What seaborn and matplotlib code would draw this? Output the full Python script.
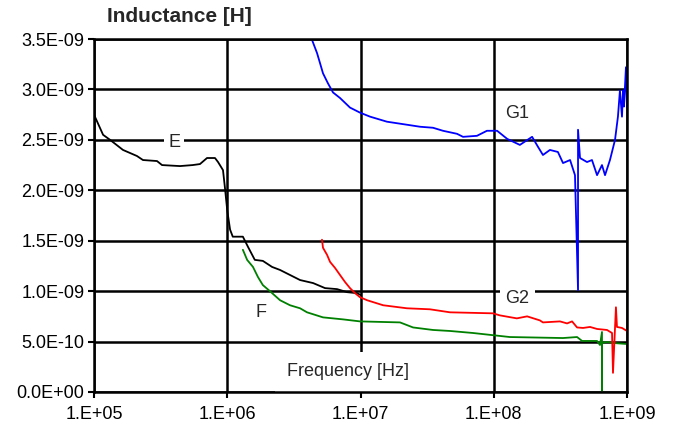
import matplotlib
matplotlib.use("Agg")
import matplotlib.pyplot as plt
import matplotlib.ticker as mticker
import seaborn as sns
import pandas as pd

# ---- data (frequency in Hz, inductance in nH) ----
e_freq = [1.00e5, 1.17e5, 1.32e5, 1.65e5, 2.10e5, 2.33e5, 2.97e5, 3.24e5, 4.42e5, 5.5e5,
          6.24e5, 7.05e5, 8.09e5, 8.53e5, 9.29e5, 9.6e5, 1.00e6, 1.05e6, 1.10e6, 1.31e6,
          1.43e6, 1.61e6, 1.85e6, 2.17e6, 2.49e6, 2.96e6, 3.52e6, 4.41e6, 5.42e6, 6.67e6,
          7.93e6, 9.42e6, 1.01e7]
e_ind = [2.75, 2.55, 2.50, 2.40, 2.34, 2.30, 2.29, 2.25, 2.24, 2.25,
         2.26, 2.32, 2.32, 2.28, 2.20, 2.03, 1.80, 1.61, 1.54, 1.54,
         1.44, 1.31, 1.30, 1.24, 1.21, 1.16, 1.11, 1.08, 1.03, 1.02,
         0.99, 0.98, 0.96]

f_freq = [1.31e6, 1.41e6, 1.56e6, 1.70e6, 1.85e6, 2.09e6, 2.49e6, 2.96e6, 3.52e6, 3.97e6,
          5.23e6, 7.40e6, 9.91e6, 1.98e7, 2.48e7, 3.50e7, 4.70e7, 6.99e7, 1.32e8, 3.31e8,
          4.22e8, 4.60e8, 5.96e8, 6.27e8, 6.49e8, 6.49e8, 6.49e8, 7.08e8, 7.85e8, 1.00e9]
f_ind = [1.41, 1.31, 1.24, 1.14, 1.06, 1.00, 0.91, 0.86, 0.83, 0.79,
         0.74, 0.72, 0.70, 0.69, 0.64, 0.615, 0.605, 0.585, 0.545, 0.535,
         0.545, 0.506, 0.506, 0.466, 0.595, 0.0, 0.486, 0.496, 0.486, 0.476]

g1_freq = [4.33e6, 4.72e6, 4.97e6, 5.23e6, 5.70e6, 6.22e6, 7.02e6, 8.34e6, 9.91e6, 1.18e7,
           1.58e7, 2.23e7, 2.80e7, 3.50e7, 4.16e7, 5.30e7, 5.88e7, 7.48e7, 8.89e7, 1.06e8,
           1.26e8, 1.57e8, 1.94e8, 2.15e8, 2.34e8, 2.64e8, 3.03e8, 3.31e8, 3.74e8, 4.07e8,
           4.29e8, 4.29e8, 4.44e8, 5.01e8, 5.46e8, 5.96e8, 6.49e8, 6.84e8, 7.45e8, 8.13e8,
           8.55e8, 8.85e8, 9.17e8, 9.33e8, 9.49e8, 9.82e8, 1.00e9, 1.02e9]
g1_ind = [3.49, 3.36, 3.26, 3.16, 3.06, 2.97, 2.915, 2.82, 2.77, 2.73,
          2.68, 2.65, 2.63, 2.62, 2.59, 2.56, 2.53, 2.54, 2.59, 2.59,
          2.51, 2.45, 2.53, 2.43, 2.35, 2.40, 2.38, 2.27, 2.30, 2.15,
          1.01, 2.60, 2.32, 2.28, 2.30, 2.15, 2.25, 2.15, 2.30, 2.50,
          2.73, 2.99, 2.73, 2.99, 2.83, 3.22, 2.82, 2.82]

g2_freq = [5.14e6, 5.23e6, 5.61e6, 5.91e6, 6.44e6, 7.02e6, 7.66e6, 8.34e6, 9.10e6, 9.91e6,
           1.12e7, 1.48e7, 2.23e7, 3.32e7, 4.70e7, 9.87e7, 1.11e8, 1.49e8, 1.78e8, 2.22e8,
           2.34e8, 3.14e8, 3.55e8, 3.87e8, 4.22e8, 4.68e8, 5.28e8, 5.96e8, 7.08e8, 7.72e8,
           7.85e8, 8.26e8, 8.41e8, 9.17e8, 1.00e9]
g2_ind = [1.51, 1.43, 1.36, 1.29, 1.23, 1.16, 1.09, 1.03, 0.98, 0.94,
          0.91, 0.86, 0.83, 0.82, 0.79, 0.78, 0.76, 0.73, 0.75, 0.71,
          0.69, 0.70, 0.68, 0.70, 0.64, 0.635, 0.645, 0.625, 0.615, 0.585,
          0.19, 0.84, 0.645, 0.635, 0.605]

series_names = ["E", "F", "G1", "G2"]
series_colors = ["#000000", "#008000", "#0000ff", "#ff0000"]
y_ticks_nh = [0.0, 0.5, 1.0, 1.5, 2.0, 2.5, 3.0, 3.5]
x_ticks_hz = [1e5, 1e6, 1e7, 1e8, 1e9]

# ---- plotting ----
sns.set_style("white")
plt.rcParams["font.family"] = ["Liberation Sans", "DejaVu Sans"]

fig = plt.figure(figsize=(6.75, 4.33), dpi=100)
ax = fig.add_axes([94 / 675, 1 - 392 / 433, (627 - 94) / 675, (392 - 39) / 433])

data = {"E": (e_freq, e_ind), "F": (f_freq, f_ind),
        "G1": (g1_freq, g1_ind), "G2": (g2_freq, g2_ind)}

for name, color in zip(series_names, series_colors):
    fr, ind = data[name]
    d = pd.DataFrame({"freq": fr, "L": [v * 1e-9 for v in ind]})
    sns.lineplot(data=d, x="freq", y="L", ax=ax, color=color, sort=False,
                 estimator=None, linewidth=1.3, legend=False, zorder=3)

ax.set_xscale("log")
ax.set_xlim(1e5, 1e9)
ax.set_ylim(0, 3.5e-9)
ax.set_xticks(x_ticks_hz)
ax.set_yticks([v * 1e-9 for v in y_ticks_nh])
ax.xaxis.set_minor_locator(mticker.NullLocator())
ax.xaxis.set_major_formatter(mticker.FuncFormatter(lambda v, p: f"{v:#.0E}"))
ax.yaxis.set_major_formatter(mticker.FuncFormatter(lambda v, p: f"{v:.1E}"))
ax.tick_params(axis="both", which="major", direction="out", length=4, width=1.5,
               color="black", labelsize=13, labelcolor="black", left=True, bottom=True)
ax.tick_params(axis="x", pad=6)
ax.tick_params(axis="y", pad=3)
ax.set_xlabel("")
ax.set_ylabel("")
ax.grid(True, color="black", linewidth=1.8)
ax.set_axisbelow(True)
for s in ax.spines.values():
    s.set_color("black")
    s.set_linewidth(1.8)
    s.set_zorder(6)

ax.text(4.0e5, 2.47e-9, "E", fontsize=13, ha="center", va="center",
        bbox=dict(facecolor="white", edgecolor="none", pad=3), zorder=5)
ax.text(1.8e6, 0.79e-9, "F", fontsize=13, ha="center", va="center",
        bbox=dict(facecolor="white", edgecolor="none", pad=3), zorder=5)
ax.text(1.5e8, 2.76e-9, "G1", fontsize=13, ha="center", va="center",
        bbox=dict(facecolor="white", edgecolor="none", pad=4), zorder=5)
ax.text(1.5e8, 0.93e-9, "G2", fontsize=13, ha="center", va="center",
        bbox=dict(facecolor="white", edgecolor="none", pad=4), zorder=5)
ax.text(8.0e6, 0.20e-9, "Frequency [Hz]", fontsize=13, ha="center", va="center",
        bbox=dict(facecolor="white", edgecolor="none", pad=8), zorder=5)

fig.text(179 / 675, 1 - 17 / 433, "Inductance [H]", fontsize=15, fontweight="bold",
         ha="center", va="center")

fig.savefig("out.png", dpi=100)
